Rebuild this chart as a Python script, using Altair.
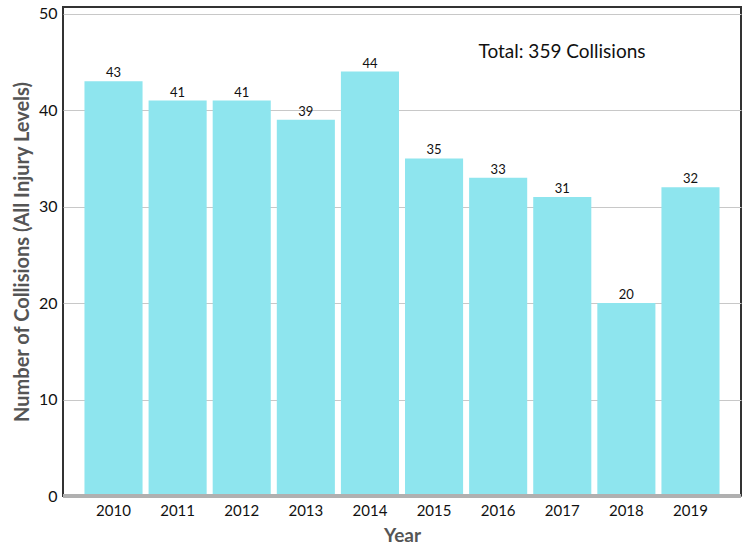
import altair as alt
import pandas as pd

years = ["2010", "2011", "2012", "2013", "2014", "2015", "2016", "2017", "2018", "2019"]
counts = [43, 41, 41, 39, 44, 35, 33, 31, 20, 32]
total_label = ["Total: 359 Collisions"]

df = pd.DataFrame({"Year": years, "Count": counts})
FONT = "Century Gothic, URW Gothic, Lato, sans-serif"

x = alt.X("Year:N", sort=years,
          scale=alt.Scale(paddingInner=0.094, paddingOuter=0.335),
          axis=alt.Axis(title="Year", labelAngle=0, labelFontSize=15, labelColor="#111",
                        labelPadding=7, ticks=False, domain=False, labelFontWeight="normal",
                        titleFontSize=19, titleFontWeight="bold", titleColor="#555",
                        titlePadding=8, labelFont=FONT, titleFont=FONT))
y = alt.Y("Count:Q", scale=alt.Scale(domain=[0, 50.7], nice=False, zero=True),
          axis=alt.Axis(title="Number of Collisions (All Injury Levels)", values=[0, 10, 20, 30, 40, 50],
                        labelFontSize=16, labelColor="#111", labelPadding=6, ticks=False, domain=False,
                        grid=True, gridColor="#c8c8c8", gridWidth=1,
                        titleFontSize=20, titleFontWeight="bold", titleColor="#555",
                        titlePadding=6, labelFont=FONT, titleFont=FONT))

base = alt.Chart(df)
bars = base.mark_bar(color="#8EE5EE").encode(x=x, y=y)
labels = base.mark_text(baseline="bottom", dy=-1, fontSize=13, color="#111", font=FONT).encode(
    x=alt.X("Year:N", sort=years), y="Count:Q", text="Count:Q")
baseline = alt.Chart(pd.DataFrame({"v": [0]})).mark_rule(color="#b0b0b0", strokeWidth=4).encode(y="v:Q")
total = alt.Chart(pd.DataFrame({"t": total_label})).mark_text(
    fontSize=19, color="#111", font=FONT, align="center", baseline="middle").encode(
    text="t:N", x=alt.value(499), y=alt.value(45))

chart = alt.layer(bars, labels, baseline, total).properties(
    width=678, height=489,
    autosize=alt.AutoSizeParams(type="none"),
    padding={"left": 63, "top": 7, "right": 6, "bottom": 50},
    background="white",
).configure_view(stroke="#333", strokeWidth=2)

chart.save("out.html", embed_options={"renderer": "svg", "actions": False})
